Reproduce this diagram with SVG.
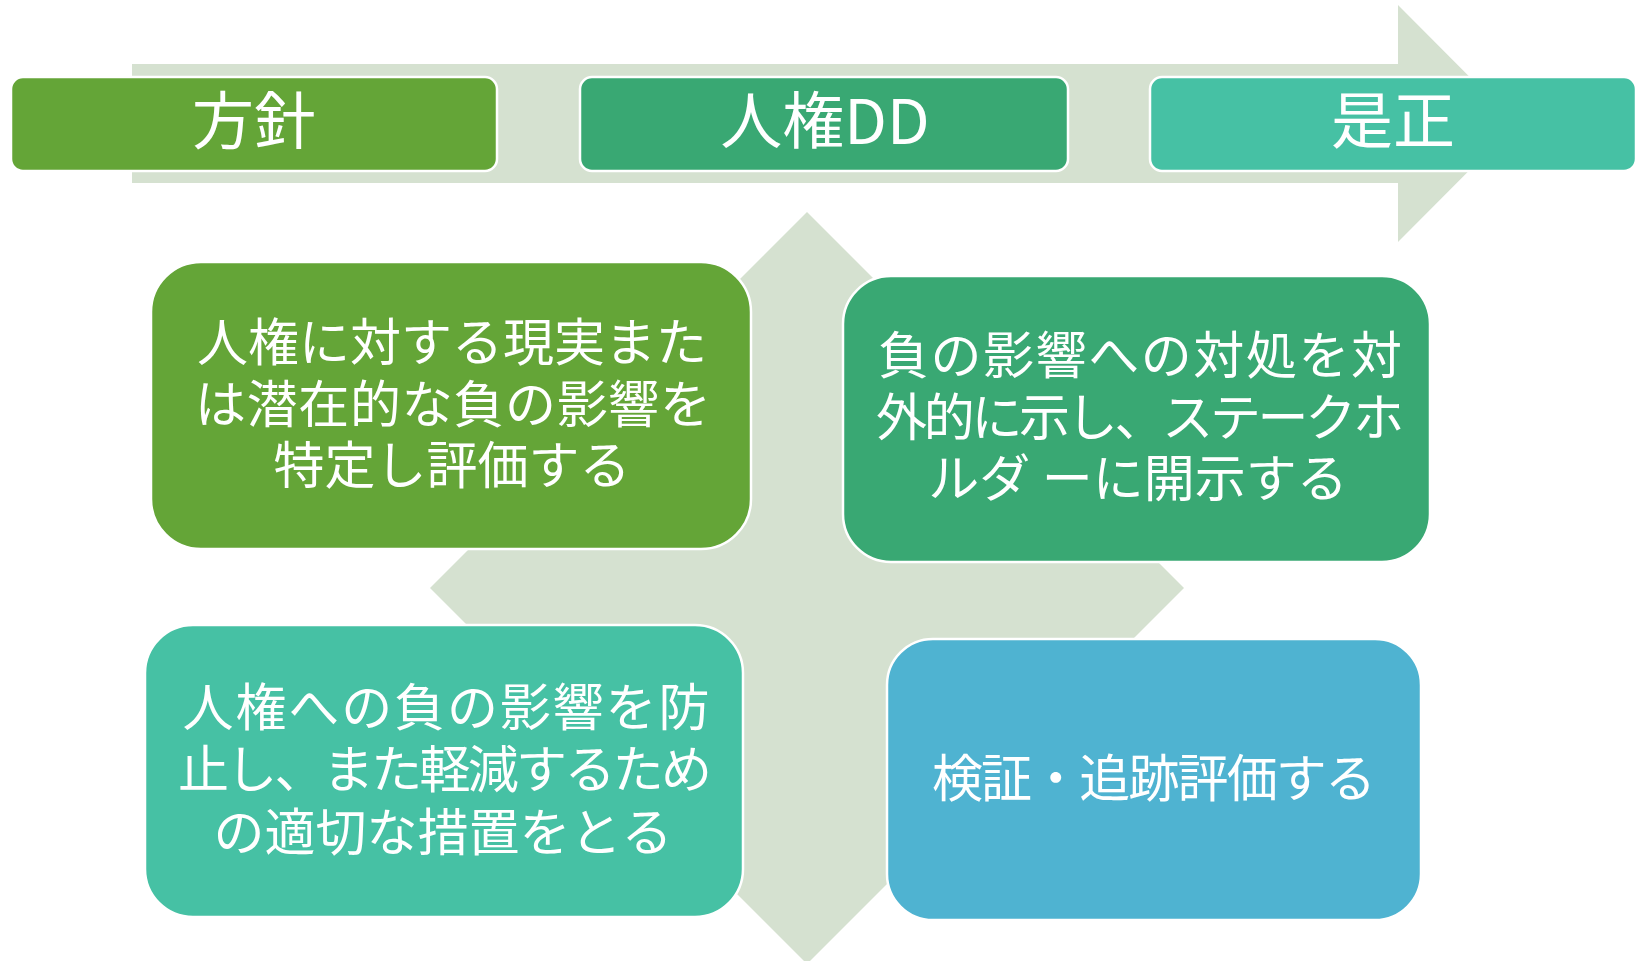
<svg xmlns="http://www.w3.org/2000/svg" width="1638" height="961" viewBox="0 0 1638 961">
  <style>
    .bg { fill: #D5E1D0; }
    .box { stroke: #FFFFFF; stroke-width: 2.5; }
    .g1 { fill: #64A537; }
    .g2 { fill: #39A873; }
    .g3 { fill: #46C1A4; }
    .b1 { fill: #4FB3D1; }
    text { font-family: "Noto Sans CJK JP", "Noto Sans", sans-serif; fill: #FFFFFF; text-anchor: middle; }
    .head { font-size: 62px; }
    .body { font-size: 51px; }
  </style>
  <rect x="0" y="0" width="1638" height="961" fill="#FFFFFF"/>

  <g id="arrows">
    <!-- horizontal process arrow -->
    <polygon class="bg" points="132,64 1398,64 1398,5 1516,123.5 1398,242 1398,183 132,183"/>
    <!-- quad arrow -->
    <polygon class="bg" points="807,212 987,392 897,392 897,498 1004,498 1004,408 1184,588 1004,768 1004,678 897,678 897,784 987,784 807,964 627,784 717,784 717,678 610,678 610,768 430,588 610,408 610,498 717,498 717,392 627,392"/>
  </g>

  <g id="node-houshin">
    <rect class="box g1" x="11" y="77" width="486" height="94" rx="12" ry="12"/>
    <text class="head" x="254" y="143.5">方針</text>
  </g>
  <g id="node-jinken-dd">
    <rect class="box g2" x="580" y="77" width="488" height="94" rx="12" ry="12"/>
    <text class="head" x="825" y="143.5">人権DD</text>
  </g>
  <g id="node-zesei">
    <rect class="box g3" x="1150" y="77" width="486" height="94" rx="12" ry="12"/>
    <text class="head" x="1393" y="143.5">是正</text>
  </g>

  <g id="node-identify">
    <rect class="box g1" x="151" y="262" width="600" height="287" rx="50" ry="50"/>
    <text class="body" x="452" y="361">人権に対する現実また</text>
    <text class="body" x="453" y="422.5" textLength="516" lengthAdjust="spacing">は潜在的な負の影響を</text>
    <text class="body" x="452" y="484">特定し評価する</text>
  </g>
  <g id="node-disclose">
    <rect class="box g2" x="843" y="276" width="587" height="286" rx="48" ry="48"/>
    <text class="body" x="1140" y="373.5" textLength="524" lengthAdjust="spacing">負の影響への対処を対</text>
    <text class="body" x="1140" y="436" textLength="528" lengthAdjust="spacing">外的に示し、ステークホ</text>
    <text class="body" x="1138" y="497">ルダ ーに開示する</text>
  </g>
  <g id="node-prevent">
    <rect class="box g3" x="145" y="625" width="598" height="292" rx="48" ry="48"/>
    <text class="body" x="446" y="726" textLength="527" lengthAdjust="spacing">人権への負の影響を防</text>
    <text class="body" x="445" y="787.5" textLength="534" lengthAdjust="spacing">止し、また軽減するため</text>
    <text class="body" x="443" y="851">の適切な措置をとる</text>
  </g>
  <g id="node-verify">
    <rect class="box b1" x="887" y="639" width="534" height="281" rx="46" ry="46"/>
    <text class="body" x="1154" y="796.5" textLength="444" lengthAdjust="spacing">検証・追跡評価する</text>
  </g>
</svg>
